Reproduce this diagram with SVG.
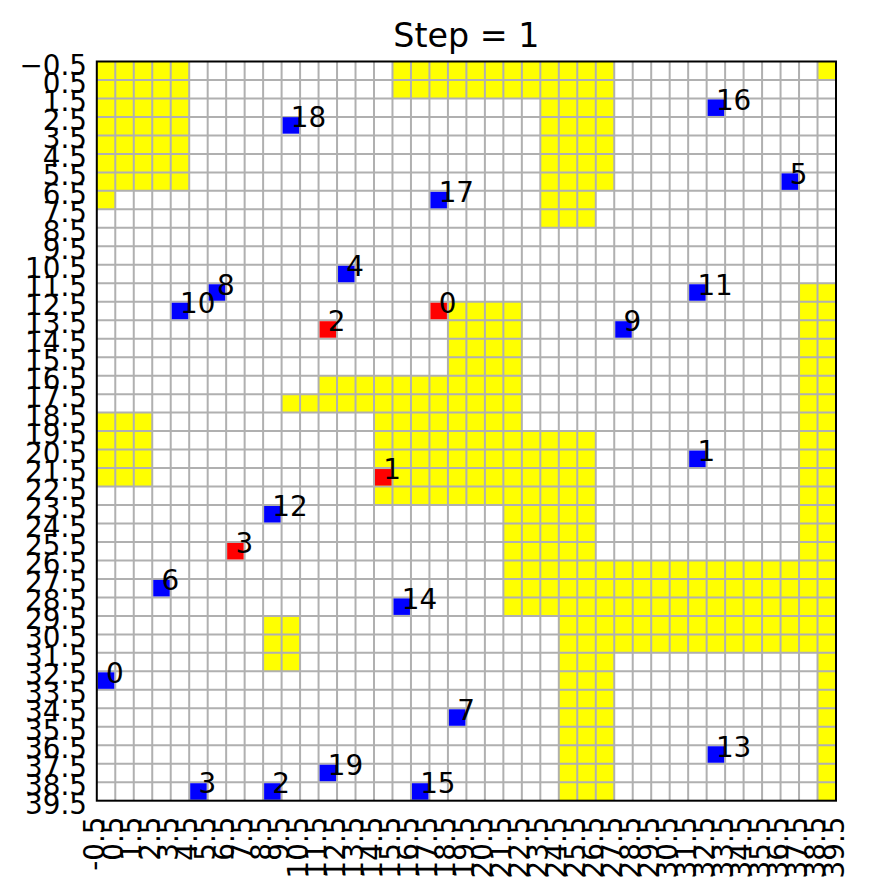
<svg xmlns="http://www.w3.org/2000/svg" width="870" height="893" viewBox="0 0 870 893">
<style>
.t{font-family:"DejaVu Sans","Liberation Sans",sans-serif;font-size:27.8px;fill:#000}
.title{font-family:"DejaVu Sans","Liberation Sans",sans-serif;font-size:33.3px;fill:#000}
.y{fill:#ffff00}
.grid{fill:none;stroke:#b0b0b0;stroke-width:2}
.spine{fill:none;stroke:#000;stroke-width:2}
.blue{fill:#0000ff}
.red{fill:#ff0000}
</style>
<rect width="870" height="893" fill="#fff"/>
<text class="title" x="466.4" y="46.7" text-anchor="middle">Step = 1</text>
<g id="grid-map" transform="translate(96.8 61.5) scale(18.48)">
<rect x="0" y="0" width="40" height="40" fill="#fff"/>
<g id="obstacles">
<rect class="y" x="0" y="0" width="5" height="7"/>
<rect class="y" x="0" y="7" width="1" height="1"/>
<rect class="y" x="16" y="0" width="12" height="2"/>
<rect class="y" x="24" y="2" width="4" height="5"/>
<rect class="y" x="24" y="7" width="3" height="2"/>
<rect class="y" x="39" y="0" width="1" height="1"/>
<rect class="y" x="38" y="12" width="2" height="15"/>
<rect class="y" x="19" y="13" width="4" height="4"/>
<rect class="y" x="12" y="17" width="11" height="1"/>
<rect class="y" x="10" y="18" width="13" height="1"/>
<rect class="y" x="15" y="19" width="8" height="1"/>
<rect class="y" x="15" y="20" width="12" height="4"/>
<rect class="y" x="22" y="24" width="5" height="3"/>
<rect class="y" x="0" y="19" width="3" height="4"/>
<rect class="y" x="22" y="27" width="18" height="3"/>
<rect class="y" x="25" y="30" width="15" height="2"/>
<rect class="y" x="25" y="32" width="3" height="8"/>
<rect class="y" x="39" y="32" width="1" height="8"/>
<rect class="y" x="9" y="30" width="2" height="3"/>
</g>
<path class="grid" vector-effect="non-scaling-stroke" d="M1 0V40M2 0V40M3 0V40M4 0V40M5 0V40M6 0V40M7 0V40M8 0V40M9 0V40M10 0V40M11 0V40M12 0V40M13 0V40M14 0V40M15 0V40M16 0V40M17 0V40M18 0V40M19 0V40M20 0V40M21 0V40M22 0V40M23 0V40M24 0V40M25 0V40M26 0V40M27 0V40M28 0V40M29 0V40M30 0V40M31 0V40M32 0V40M33 0V40M34 0V40M35 0V40M36 0V40M37 0V40M38 0V40M39 0V40M0 1H40M0 2H40M0 3H40M0 4H40M0 5H40M0 6H40M0 7H40M0 8H40M0 9H40M0 10H40M0 11H40M0 12H40M0 13H40M0 14H40M0 15H40M0 16H40M0 17H40M0 18H40M0 19H40M0 20H40M0 21H40M0 22H40M0 23H40M0 24H40M0 25H40M0 26H40M0 27H40M0 28H40M0 29H40M0 30H40M0 31H40M0 32H40M0 33H40M0 34H40M0 35H40M0 36H40M0 37H40M0 38H40M0 39H40"/>
</g>
<g id="agents">
<g id="blue-0"><rect class="blue" x="97.79" y="672.33" width="16.5" height="16.5"/><text class="t" x="106.04" y="682.58">0</text></g>
<g id="blue-1"><rect class="blue" x="689.15" y="450.57" width="16.5" height="16.5"/><text class="t" x="697.4" y="460.82">1</text></g>
<g id="blue-2"><rect class="blue" x="264.11" y="783.21" width="16.5" height="16.5"/><text class="t" x="272.36" y="793.46">2</text></g>
<g id="blue-3"><rect class="blue" x="190.19" y="783.21" width="16.5" height="16.5"/><text class="t" x="198.44" y="793.46">3</text></g>
<g id="blue-4"><rect class="blue" x="338.03" y="265.77" width="16.5" height="16.5"/><text class="t" x="346.28" y="276.02">4</text></g>
<g id="blue-5"><rect class="blue" x="781.55" y="173.37" width="16.5" height="16.5"/><text class="t" x="789.8" y="183.62">5</text></g>
<g id="blue-6"><rect class="blue" x="153.23" y="579.93" width="16.5" height="16.5"/><text class="t" x="161.48" y="590.18">6</text></g>
<g id="blue-7"><rect class="blue" x="448.91" y="709.29" width="16.5" height="16.5"/><text class="t" x="457.16" y="719.54">7</text></g>
<g id="blue-8"><rect class="blue" x="208.67" y="284.25" width="16.5" height="16.5"/><text class="t" x="216.92" y="294.5">8</text></g>
<g id="blue-9"><rect class="blue" x="615.23" y="321.21" width="16.5" height="16.5"/><text class="t" x="623.48" y="331.46">9</text></g>
<g id="blue-10"><rect class="blue" x="171.71" y="302.73" width="16.5" height="16.5"/><text class="t" x="179.96" y="312.98">10</text></g>
<g id="blue-11"><rect class="blue" x="689.15" y="284.25" width="16.5" height="16.5"/><text class="t" x="697.4" y="294.5">11</text></g>
<g id="blue-12"><rect class="blue" x="264.11" y="506.01" width="16.5" height="16.5"/><text class="t" x="272.36" y="516.26">12</text></g>
<g id="blue-13"><rect class="blue" x="707.63" y="746.25" width="16.5" height="16.5"/><text class="t" x="715.88" y="756.5">13</text></g>
<g id="blue-14"><rect class="blue" x="393.47" y="598.41" width="16.5" height="16.5"/><text class="t" x="401.72" y="608.66">14</text></g>
<g id="blue-15"><rect class="blue" x="411.95" y="783.21" width="16.5" height="16.5"/><text class="t" x="420.2" y="793.46">15</text></g>
<g id="blue-16"><rect class="blue" x="707.63" y="99.45" width="16.5" height="16.5"/><text class="t" x="715.88" y="109.7">16</text></g>
<g id="blue-17"><rect class="blue" x="430.43" y="191.85" width="16.5" height="16.5"/><text class="t" x="438.68" y="202.1">17</text></g>
<g id="blue-18"><rect class="blue" x="282.59" y="117.2" width="16.5" height="16.5"/><text class="t" x="290.84" y="127.4">18</text></g>
<g id="blue-19"><rect class="blue" x="319.55" y="764.73" width="16.5" height="16.5"/><text class="t" x="327.8" y="774.98">19</text></g>
<g id="red-0"><rect class="red" x="430.43" y="302.73" width="16.5" height="16.5"/><text class="t" x="438.68" y="312.98">0</text></g>
<g id="red-1"><rect class="red" x="374.99" y="469.05" width="16.5" height="16.5"/><text class="t" x="383.24" y="479.3">1</text></g>
<g id="red-2"><rect class="red" x="319.55" y="321.21" width="16.5" height="16.5"/><text class="t" x="327.8" y="331.46">2</text></g>
<g id="red-3"><rect class="red" x="227.15" y="542.97" width="16.5" height="16.5"/><text class="t" x="235.4" y="553.22">3</text></g>
</g>
<rect class="spine" x="96.8" y="61.5" width="739.2" height="739.2"/>
<g id="y-ticks" class="t" text-anchor="end">
<text x="87" y="74.5">−0.5</text>
<text x="87" y="92.98">0.5</text>
<text x="87" y="111.46">1.5</text>
<text x="87" y="129.94">2.5</text>
<text x="87" y="148.42">3.5</text>
<text x="87" y="166.9">4.5</text>
<text x="87" y="185.38">5.5</text>
<text x="87" y="203.86">6.5</text>
<text x="87" y="222.34">7.5</text>
<text x="87" y="240.82">8.5</text>
<text x="87" y="259.3">9.5</text>
<text x="87" y="277.78">10.5</text>
<text x="87" y="296.26">11.5</text>
<text x="87" y="314.74">12.5</text>
<text x="87" y="333.22">13.5</text>
<text x="87" y="351.7">14.5</text>
<text x="87" y="370.18">15.5</text>
<text x="87" y="388.66">16.5</text>
<text x="87" y="407.14">17.5</text>
<text x="87" y="425.62">18.5</text>
<text x="87" y="444.1">19.5</text>
<text x="87" y="462.58">20.5</text>
<text x="87" y="481.06">21.5</text>
<text x="87" y="499.54">22.5</text>
<text x="87" y="518.02">23.5</text>
<text x="87" y="536.5">24.5</text>
<text x="87" y="554.98">25.5</text>
<text x="87" y="573.46">26.5</text>
<text x="87" y="591.94">27.5</text>
<text x="87" y="610.42">28.5</text>
<text x="87" y="628.9">29.5</text>
<text x="87" y="647.38">30.5</text>
<text x="87" y="665.86">31.5</text>
<text x="87" y="684.34">32.5</text>
<text x="87" y="702.82">33.5</text>
<text x="87" y="721.3">34.5</text>
<text x="87" y="739.78">35.5</text>
<text x="87" y="758.26">36.5</text>
<text x="87" y="776.74">37.5</text>
<text x="87" y="795.22">38.5</text>
<text x="87" y="813.7">39.5</text>
</g>
<g id="x-ticks" class="t" text-anchor="end" transform="translate(0 816.5) rotate(-90)">
<text x="0" y="104.3">-0.5</text>
<text x="0" y="122.78">0.5</text>
<text x="0" y="141.26">1.5</text>
<text x="0" y="159.74">2.5</text>
<text x="0" y="178.22">3.5</text>
<text x="0" y="196.7">4.5</text>
<text x="0" y="215.18">5.5</text>
<text x="0" y="233.66">6.5</text>
<text x="0" y="252.14">7.5</text>
<text x="0" y="270.62">8.5</text>
<text x="0" y="289.1">9.5</text>
<text x="0" y="307.58">10.5</text>
<text x="0" y="326.06">11.5</text>
<text x="0" y="344.54">12.5</text>
<text x="0" y="363.02">13.5</text>
<text x="0" y="381.5">14.5</text>
<text x="0" y="399.98">15.5</text>
<text x="0" y="418.46">16.5</text>
<text x="0" y="436.94">17.5</text>
<text x="0" y="455.42">18.5</text>
<text x="0" y="473.9">19.5</text>
<text x="0" y="492.38">20.5</text>
<text x="0" y="510.86">21.5</text>
<text x="0" y="529.34">22.5</text>
<text x="0" y="547.82">23.5</text>
<text x="0" y="566.3">24.5</text>
<text x="0" y="584.78">25.5</text>
<text x="0" y="603.26">26.5</text>
<text x="0" y="621.74">27.5</text>
<text x="0" y="640.22">28.5</text>
<text x="0" y="658.7">29.5</text>
<text x="0" y="677.18">30.5</text>
<text x="0" y="695.66">31.5</text>
<text x="0" y="714.14">32.5</text>
<text x="0" y="732.62">33.5</text>
<text x="0" y="751.1">34.5</text>
<text x="0" y="769.58">35.5</text>
<text x="0" y="788.06">36.5</text>
<text x="0" y="806.54">37.5</text>
<text x="0" y="825.02">38.5</text>
<text x="0" y="843.5">39.5</text>
</g>
</svg>
